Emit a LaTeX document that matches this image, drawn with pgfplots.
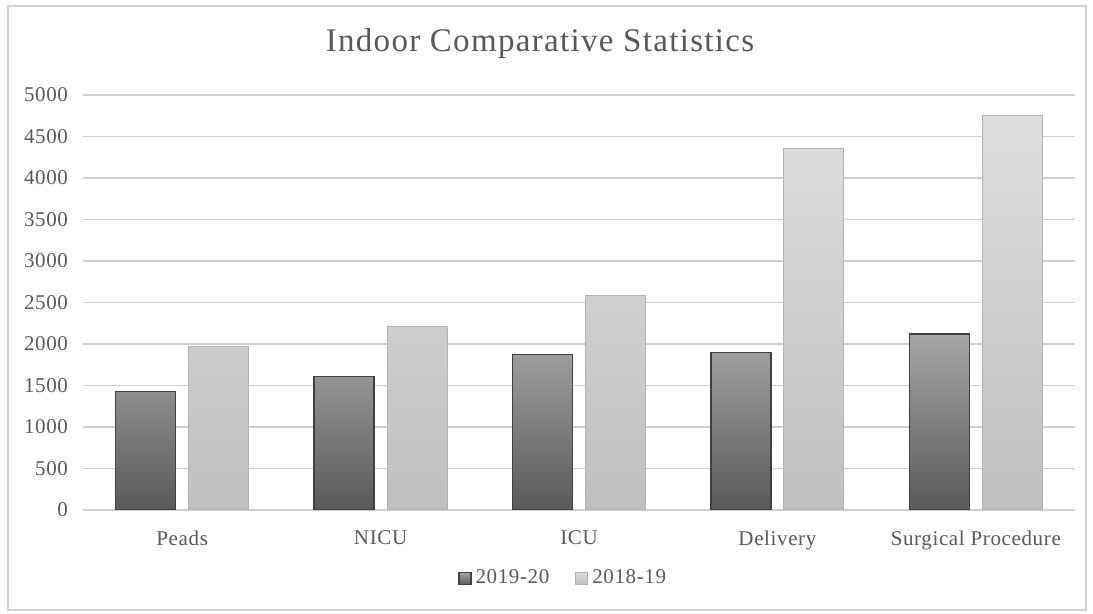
\documentclass[border=0pt]{standalone}
\usepackage{pgfplots}
\pgfplotsset{compat=1.18}
\usepackage{fontspec}
\setmainfont{Liberation Serif}
\definecolor{txt}{HTML}{595959}
\definecolor{gridc}{HTML}{D0D0D0}
\newcommand\lblfont{\fontsize{10.5}{12}\selectfont\addfontfeature{LetterSpace=3}}
\begin{document}
\begin{tikzpicture}
% page frame (1093x614 px at 0.5pt/px)
\fill[white] (0,0) rectangle (546.5pt,307pt);
\draw[gray!35, line width=0.6pt] (4pt,2pt) rectangle (543pt,304pt);
\node[text=txt, font=\fontsize{16.5}{19}\selectfont\addfontfeature{LetterSpace=4}] at (270pt,285pt) {Indoor Comparative Statistics};
\begin{axis}[
    at={(41.5pt,52pt)}, anchor=south west,
    scale only axis,
    width=496pt, height=207.5pt,
    ybar=6.5pt, bar width=30pt,
    xmin=-0.5, xmax=4.5,
    ymin=0, ymax=5000,
    xtick=data,
    xticklabels={Peads,NICU,ICU,Delivery,Surgical Procedure},
    ytick={0,500,...,5000},
    ymajorgrids=true,
    grid style={gridc, line width=0.6pt},
    axis x line*=bottom,
    axis y line*=left,
    x axis line style={gridc, line width=0.6pt, -},
    y axis line style={draw=none},
    major tick length=0pt,
    tick label style={text=txt, font=\lblfont},
    /pgf/number format/assume math mode=true,
    /pgf/number format/1000 sep={},
    yticklabel style={xshift=-4pt},
    xticklabel style={yshift=-7pt},
    legend style={at={(0.485,-0.165)}, anchor=center, draw=none, fill=none,
        legend columns=2, font=\lblfont, text=txt,
        /tikz/every even column/.append style={column sep=11pt}},
    legend image code/.code={\draw[#1] (0pt,-3pt) rectangle (6pt,3pt);},
]
\addplot[draw=black!75, line width=0.7pt, bottom color=black!65, top color=black!35]
    coordinates {(0,1425) (1,1605) (2,1870) (3,1900) (4,2120)};
\addplot[draw=black!30, line width=0.5pt, bottom color=black!25, top color=black!13]
    coordinates {(0,1970) (1,2210) (2,2580) (3,4360) (4,4750)};
\legend{2019-20,2018-19}
\end{axis}
\end{tikzpicture}
\end{document}
